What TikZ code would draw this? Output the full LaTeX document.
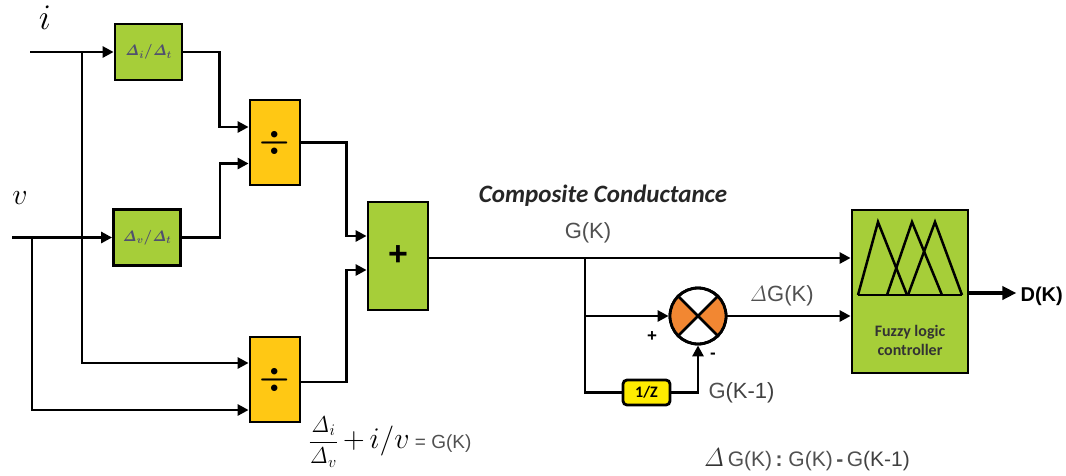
\RequirePackage{fix-cm}
\documentclass[tikz,border=0pt]{standalone}
\usepackage{amsmath}
\usepackage[no-math]{fontspec}
\setmainfont{Liberation Sans}
\newfontfamily\carl{Carlito}
\usetikzlibrary{arrows.meta,calc}
\definecolor{boxgreen}{RGB}{166,206,57}
\definecolor{divyellow}{RGB}{255,200,20}
\definecolor{sumorange}{RGB}{242,135,50}
\definecolor{zyellow}{RGB}{255,236,0}
\definecolor{txtgray}{RGB}{80,80,80}
\definecolor{lbl}{RGB}{80,80,110}
\begin{document}
\begin{tikzpicture}[x=1pt,y=-1pt,
  wire/.style={line width=2.8pt},
  arr/.style={wire,-{Triangle[length=11pt,width=11pt]}},
  blk/.style={draw,line width=2.8pt,inner sep=0pt},
  gbox/.style={blk,fill=boxgreen},
  dbox/.style={blk,fill=divyellow,minimum width=50pt,minimum height=85pt,font=\fontsize{34}{36}\selectfont\bfseries},
  lab/.style={text=txtgray,font=\fontsize{22}{24}\selectfont}]
\useasboundingbox (0,0) rectangle (1066,475);

% blocks
\node[gbox,minimum width=67pt,minimum height=56pt,text=lbl,font=\fontsize{15}{17}\selectfont] (b1) at (148.5,52) {$\boldsymbol{\mathit{\Delta}_i/\mathit{\Delta}_t}$};
\node[gbox,minimum width=67pt,minimum height=56pt,text=lbl,font=\fontsize{15}{17}\selectfont] (b2) at (147,237.5) {$\boldsymbol{\mathit{\Delta}_v/\mathit{\Delta}_t}$};
\node[dbox] (d1) at (275,142.5) {$\boldsymbol{\div}$};
\node[dbox] (d2) at (275,379.5) {$\boldsymbol{\div}$};
\node[gbox,minimum width=60pt,minimum height=108pt,font=\fontsize{34}{36}\selectfont\bfseries] (pl) at (398,256) {+};
\node[blk,fill=zyellow,rounded corners=4pt,minimum width=47pt,minimum height=25pt,font=\carl\fontsize{16}{17}\selectfont\bfseries] (z) at (646.5,392.5) {1/Z};
\node[gbox,minimum width=116pt,minimum height=163pt] (fz) at (910,291.5) {};
\node[circle,draw,line width=2.8pt,fill=white,minimum size=56pt,inner sep=0pt] (s) at (698,316) {};

% summing junction decoration
\fill[sumorange] (s.center) -- ++(135:27) arc[start angle=135,end angle=225,radius=27] -- cycle;
\fill[sumorange] (s.center) -- ++(-45:27) arc[start angle=-45,end angle=45,radius=27] -- cycle;
\draw[line width=2.8pt] (s.center) circle[radius=28];
\draw[line width=2.8pt] (s.45) -- (s.225) (s.135) -- (s.315);

% fuzzy membership triangles
\draw[line width=2.5pt] (858,295) -- (962,295);
\draw[line width=2.5pt] (858,295) -- (878,222) -- (907,295);
\draw[line width=2.5pt] (887,295) -- (912,222) -- (942,295);
\draw[line width=2.5pt] (908,295) -- (935,222) -- (962,295);
\node[font=\carl\fontsize{16}{19}\selectfont\bfseries,text=black!80,align=center] (ft) at (910,340) {Fuzzy logic\\controller};

% ports
\coordinate (iin) at (30,52);
\coordinate (vin) at (12,237.5);
\coordinate (ib) at (82,52);
\coordinate (vb) at (32,237.5);
\coordinate (d1a) at ($(d1.west)+(0,-15.5)$);
\coordinate (d1b) at ($(d1.west)+(0,21)$);
\coordinate (d2a) at ($(d2.west)+(0,-16.5)$);
\coordinate (d2b) at ($(d2.west)+(0,30.5)$);
\coordinate (pa) at ($(pl.west)+(0,-20)$);
\coordinate (pb) at ($(pl.west)+(0,14)$);
\coordinate (pout) at ($(pl.east)+(0,2)$);
\coordinate (fa) at ($(fz.west)+(0,-33.5)$);
\coordinate (fb) at ($(fz.west)+(0,24.5)$);
\coordinate (gb) at (585,258);
\coordinate (fo) at ($(fz.east)+(0,1.5)$);

% connectors
\draw[arr] (iin) -- (b1.west);
\draw[arr] (vin) -- (b2.west);
\draw[arr] (ib) |- (d2a);
\draw[arr] (vb) |- (d2b);
\draw[arr] (b1.east) -- ++(36,0) |- (d1a);
\draw[arr] (b2.east) -- ++(38,0) |- (d1b);
\draw[arr] (d1.east) -- ++(45,0) |- (pa);
\draw[arr] ($(d2.east)+(0,2.5)$) -- ++(45,0) |- (pb);
\draw[arr] (pout) -- (fa);
\draw[wire] (gb) |- (z.west);
\draw[arr] (gb |- s.west) -- (s.west);
\draw[arr] (z.east) -| (s.south);
\draw[arr] (s.east) -- (fb);
\draw[line width=4pt,-{Triangle[length=14pt,width=13pt]}] (fo) -- ++(47,0) coordinate (dk);

% labels
\node[font=\fontsize{36}{38}\selectfont] (li) at (45,18) {$i$};
\node[font=\fontsize{30}{32}\selectfont] (lv) at (20,198) {$v$};
\node[font=\carl\fontsize{25}{28}\selectfont\bfseries\itshape,text=black!85] (cc) at (603,196) {Composite Conductance};
\node[lab] (gk) at (588,233) {G(K)};
\node[lab,anchor=west] (dg) at (746,296) {$\mathit{\Delta}$G(K)};
\node[font=\fontsize{17}{18}\selectfont\bfseries] (plus) at (652,337) {+};
\node[font=\fontsize{17}{18}\selectfont\bfseries] (minus) at (713,356) {-};
\node[lab,anchor=west] (gk1) at (705,393) {G\textcolor{black!75}{(K-1)}};
\node[font=\fontsize{20}{22}\selectfont\bfseries,anchor=west,inner sep=1pt] (dkl) at ($(dk)+(3,3)$) {D(K)};
\node[anchor=west] (eq1) at (305,442) {\fontsize{23}{25}\selectfont$\dfrac{\mathit{\Delta}_i}{\mathit{\Delta}_v}$\fontsize{30}{32}\selectfont$\,+\,i/v$\textcolor{txtgray}{\fontsize{19}{21}\selectfont\ = G(K)}};
\node[anchor=west,text=txtgray,font=\fontsize{21}{23}\selectfont] (eq2) at (700,460) {\textcolor{black!80}{\fontsize{26}{28}\selectfont$\mathit{\Delta}$}\,G(K)\,\textbf{:}\ G(K)\,\textbf{-}\,G\textcolor{black!75}{(K-1)}};
\end{tikzpicture}
\end{document}
